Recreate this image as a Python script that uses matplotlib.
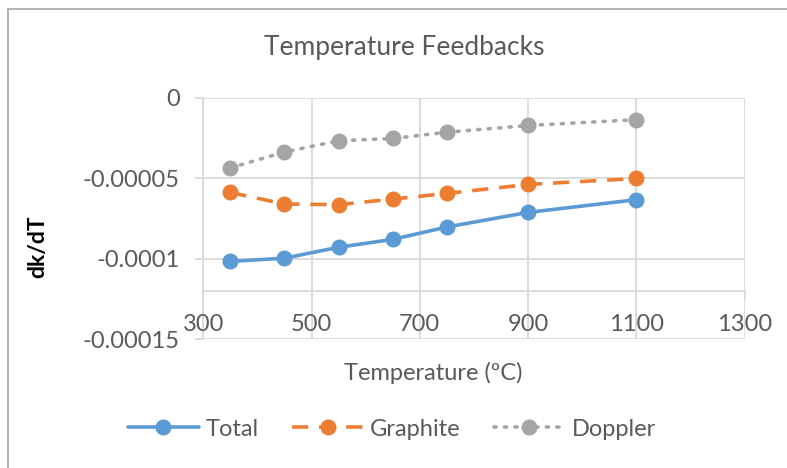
import numpy as np
import matplotlib.pyplot as plt
from matplotlib.patches import Rectangle

# Data
temperature = [350, 450, 550, 650, 750, 900, 1100]
total = [-1.017e-4, -0.997e-4, -0.929e-4, -0.880e-4, -0.803e-4, -0.712e-4, -0.633e-4]
graphite = [-0.588e-4, -0.660e-4, -0.664e-4, -0.629e-4, -0.594e-4, -0.538e-4, -0.501e-4]
doppler = [-0.435e-4, -0.336e-4, -0.266e-4, -0.252e-4, -0.213e-4, -0.171e-4, -0.135e-4]

x_ticks = [300, 500, 700, 900, 1100, 1300]
y_ticks = [0, -0.00005, -0.0001, -0.00015]
y_tick_labels = ['0', '-0.00005', '-0.0001', '-0.00015']

text_color = '#595959'
grid_color = '#D9D9D9'
plt.rcParams['font.family'] = ['Lato', 'DejaVu Sans']

fig = plt.figure(figsize=(7.87, 4.68), dpi=100)

# chart border (only left and top edges are visible in the reference)
fig.patches.append(Rectangle((8 / 787, -0.1), 1.2, 1 - 9 / 468 + 0.1,
                             transform=fig.transFigure, fill=False,
                             edgecolor='#A6A6A6', linewidth=1.2))

ax = fig.add_axes([203.3 / 787, 1 - 339 / 468, 541.2 / 787, 241 / 468])

ax.plot(temperature, total, color='#5B9BD5', linewidth=2.6, marker='o',
        markersize=10.5, label='Total', solid_capstyle='round', zorder=5)
ax.plot(temperature, graphite, color='#ED7D31', linewidth=2.6, marker='o',
        markersize=10.5, label='Graphite', linestyle=(0, (4.5, 3)), zorder=4)
ax.plot(temperature, doppler, color='#A5A5A5', linewidth=2.6, marker='o',
        markersize=10.5, label='Doppler', linestyle=(0, (0.6, 2.3)),
        dash_capstyle='round', zorder=3)

ax.set_xlim(300, 1300)
ax.set_ylim(-0.00015, 0)
ax.set_xticks(x_ticks)
ax.set_xticklabels([])
ax.set_yticks(y_ticks)
ax.set_yticklabels(y_tick_labels)

ax.grid(True, color=grid_color, linewidth=1.3)
ax.set_axisbelow(True)
for side in ['top', 'right']:
    ax.spines[side].set_visible(False)
ax.spines['left'].set_color(grid_color)
ax.spines['left'].set_linewidth(1.3)
ax.spines['bottom'].set_position(('data', -0.00012))
ax.spines['bottom'].set_color(grid_color)
ax.spines['bottom'].set_linewidth(1.3)

ax.tick_params(axis='both', colors=grid_color, length=6, width=1.3,
               labelcolor=text_color, labelsize=17)
ax.tick_params(axis='y', pad=11)

# x tick labels sit low, between the crossing axis and the plot bottom
for t in x_ticks:
    ax.text(t, -0.0001412, str(t), ha='center', va='center',
            fontsize=17, color=text_color)

fig.text(404 / 787, 1 - 47 / 468, 'Temperature Feedbacks', ha='center',
         va='center', fontsize=19, color=text_color)
fig.text(433 / 787, 1 - 373 / 468, 'Temperature (\u00baC)', ha='center',
         va='center', fontsize=17, color=text_color)
fig.text(38 / 787, 1 - 247 / 468, 'dk/dT', ha='center', va='center',
         rotation=90, fontsize=16.5, fontweight='bold', color='black')

leg = fig.legend(loc='center', bbox_to_anchor=(392 / 787, 1 - 429 / 468),
                 ncol=3, frameon=False, fontsize=17, handlelength=3.0,
                 handletextpad=0.3, columnspacing=1.4)
for txt in leg.get_texts():
    txt.set_color(text_color)

fig.savefig('out.png', dpi=100)
